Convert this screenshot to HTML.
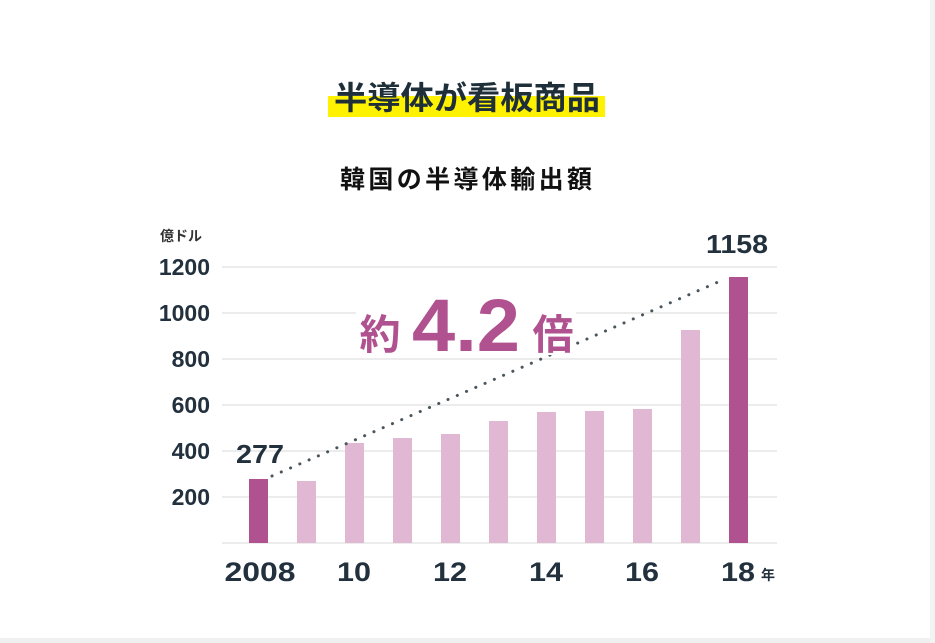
<!DOCTYPE html>
<html><head><meta charset="utf-8"><style>
html,body{margin:0;padding:0;background:#fff;}
body{width:935px;height:643px;overflow:hidden;position:relative;font-family:"Liberation Sans","Noto Sans CJK JP",sans-serif;}
</style></head><body>
<svg width="935" height="643" viewBox="0 0 935 643" xmlns="http://www.w3.org/2000/svg" style="position:absolute;left:0;top:0">
<rect x="0" y="638" width="935" height="5" fill="#f0f0f0"/>
<rect x="930" y="0" width="5" height="643" fill="#f3f3f3"/>
<rect x="328" y="96" width="277" height="21" fill="#fff200"/>
<text x="467" y="109" text-anchor="middle" font-size="32" font-weight="bold" fill="#1f2f3a" textLength="266" lengthAdjust="spacingAndGlyphs" font-family="Liberation Sans, Noto Sans CJK JP, sans-serif">半導体が看板商品</text>
<text x="466" y="188" text-anchor="middle" font-size="25" font-weight="bold" fill="#111" textLength="252" lengthAdjust="spacing" font-family="Liberation Sans, Noto Sans CJK JP, sans-serif">韓国の半導体輸出額</text>
<text x="160" y="241" font-size="14" font-weight="bold" fill="#333" font-family="Liberation Sans, Noto Sans CJK JP, sans-serif">億ドル</text>
<g stroke="#e6e6e6" stroke-width="1.5">
<line x1="222" y1="267" x2="777" y2="267"/>
<line x1="222" y1="313" x2="777" y2="313"/>
<line x1="222" y1="359" x2="777" y2="359"/>
<line x1="222" y1="405" x2="777" y2="405"/>
<line x1="222" y1="451" x2="777" y2="451"/>
<line x1="222" y1="497" x2="777" y2="497"/>
<line x1="222" y1="543" x2="777" y2="543"/>
</g>
<g font-size="23" font-weight="bold" fill="#22313d" text-anchor="end">
<text x="210" y="275">1200</text>
<text x="210" y="321">1000</text>
<text x="210" y="367">800</text>
<text x="210" y="413">600</text>
<text x="210" y="459">400</text>
<text x="210" y="505">200</text>
</g>
<g fill="#e1b8d3">
<rect x="297" y="481" width="19" height="62"/>
<rect x="345" y="443" width="19" height="100"/>
<rect x="393" y="438" width="19" height="105"/>
<rect x="441" y="434" width="19" height="109"/>
<rect x="489" y="421" width="19" height="122"/>
<rect x="537" y="412" width="19" height="131"/>
<rect x="585" y="411" width="19" height="132"/>
<rect x="633" y="409" width="19" height="134"/>
<rect x="681" y="330" width="19" height="213"/>
</g>
<rect x="249" y="479" width="19" height="64" fill="#b05190"/>
<rect x="729" y="277" width="19" height="266" fill="#b05190"/>
<line x1="272" y1="476" x2="725" y2="279" stroke="#4a555c" stroke-width="3" stroke-dasharray="0.1 10" stroke-linecap="round"/>
<text x="260" y="463" text-anchor="middle" font-size="26" font-weight="bold" fill="#22313d" textLength="48" lengthAdjust="spacingAndGlyphs">277</text>
<text x="737" y="253" text-anchor="middle" font-size="26" font-weight="bold" fill="#22313d" textLength="62" lengthAdjust="spacingAndGlyphs">1158</text>
<rect x="356" y="295" width="220" height="60" fill="#fff"/>
<text x="380" y="349" text-anchor="middle" font-size="41" font-weight="bold" fill="#b05190" font-family="Liberation Sans, Noto Sans CJK JP, sans-serif">約</text>
<text x="466" y="351" text-anchor="middle" font-size="74" font-weight="bold" fill="#b05190" textLength="108" lengthAdjust="spacingAndGlyphs">4.2</text>
<text x="553" y="349" text-anchor="middle" font-size="41" font-weight="bold" fill="#b05190" font-family="Liberation Sans, Noto Sans CJK JP, sans-serif">倍</text>
<g font-size="27" font-weight="bold" fill="#22313d" text-anchor="middle">
<text x="260" y="581" textLength="71" lengthAdjust="spacingAndGlyphs">2008</text>
<text x="354" y="581" textLength="34" lengthAdjust="spacingAndGlyphs">10</text>
<text x="450" y="581" textLength="34" lengthAdjust="spacingAndGlyphs">12</text>
<text x="546" y="581" textLength="34" lengthAdjust="spacingAndGlyphs">14</text>
<text x="642" y="581" textLength="34" lengthAdjust="spacingAndGlyphs">16</text>
<text x="738" y="581" textLength="34" lengthAdjust="spacingAndGlyphs">18</text>
</g>
<text x="761" y="580" font-size="14" font-weight="bold" fill="#22313d" font-family="Liberation Sans, Noto Sans CJK JP, sans-serif">年</text>
</svg>
</body></html>
